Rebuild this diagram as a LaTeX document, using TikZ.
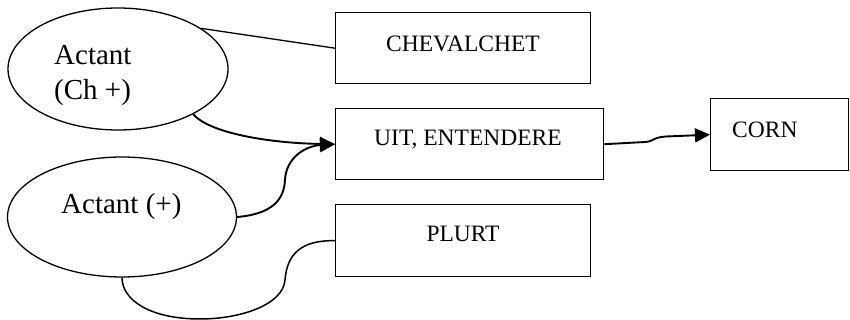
\documentclass[tikz,border=0pt]{standalone}
\usepackage{fontspec}
\setmainfont{Liberation Serif}
\usetikzlibrary{shapes.geometric,arrows.meta}
\begin{document}
\begin{tikzpicture}[x=1pt,y=-1pt,
  oval/.style={ellipse,draw,line width=1.3pt,inner sep=0pt},
  boxnode/.style={draw,line width=1.4pt,inner sep=0pt},
  boxtext/.style={font=\fontsize{23.5}{27}\selectfont,inner sep=0pt},
  ovaltext/.style={font=\fontsize{29}{35}\selectfont,inner sep=0pt,align=left},
  conn/.style={line width=1.9pt},
  arr/.style={conn,-{Triangle[length=15pt,width=14pt]}},
  plain/.style={line width=1.3pt}]
\useasboundingbox (0,0) rectangle (850,320);
% ellipses
\node[oval,minimum width=220pt,minimum height=122pt] (e1) at (118,69) {};
\node[oval,minimum width=229pt,minimum height=120pt] (e2) at (122,217) {};
\node[ovaltext,anchor=north west] (t1) at (54,45) {Actant\\(Ch +)};
\node[ovaltext,anchor=west] (t2) at (61,207) {Actant (+)};
% boxes
\node[boxnode,minimum width=255pt,minimum height=71pt,anchor=north west] (chev) at (335,12) {};
\node[boxtext] (chevt) at (463,44) {CHEVALCHET};
\node[boxnode,minimum width=268pt,minimum height=71pt,anchor=north west] (uit) at (335,108) {};
\node[boxtext] (uitt) at (468,140) {UIT, ENTENDERE};
\node[boxnode,minimum width=138pt,minimum height=72pt,anchor=north west] (corn) at (710,98) {};
\node[boxtext,anchor=west] (cornt) at (732,130) {CORN};
\node[boxnode,minimum width=255pt,minimum height=72pt,anchor=north west] (plurt) at (335,204) {};
\node[boxtext] (plurtt) at (463,234) {PLURT};
% connectors
\draw[plain] (e1.26) -- (chev.west);
\draw[arr] (e1.-31) .. controls (208,132) and (265,143) .. (uit.west);
\draw[arr] (e2.east) .. controls (272,214) and (284,200) .. (285,180)
  .. controls (286,158) and (305,146) .. (uit.west);
\draw[arr] (uit.east) -- (645,142) .. controls (654,141.5) and (652,137.5) .. (666,136.5) -- (corn.west);
\draw[conn,line width=1.5pt] (plurt.west) .. controls (300,240) and (287,255) .. (285,280)
  .. controls (283,305) and (240,319) .. (200,319)
  .. controls (150,319) and (122,300) .. (e2.south);
\end{tikzpicture}
\end{document}
